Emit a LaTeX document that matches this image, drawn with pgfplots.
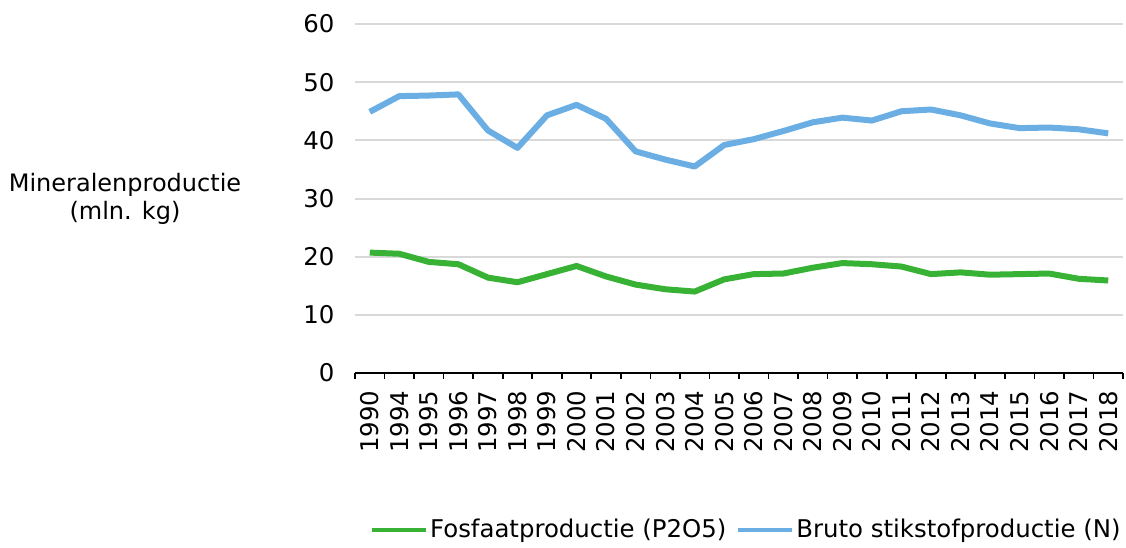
\documentclass[border=0pt]{standalone}
\usepackage{pgfplots}
\pgfplotsset{compat=1.18}
\usepackage{fontspec}
\setmainfont{DejaVu Sans}
\definecolor{cgreen}{RGB}{56,178,52}
\definecolor{cblue}{RGB}{106,174,228}
\definecolor{cgrid}{RGB}{217,217,217}
\begin{document}
\fontsize{12.2pt}{14pt}\selectfont
\begin{tikzpicture}
\begin{axis}[
  name=ax,
  scale only axis,
  width=384pt, height=174.5pt,
  xmin=-0.5, xmax=25.5,
  ymin=0, ymax=60,
  ytick={0,10,...,60},
  ymajorgrids,
  grid style={cgrid, line width=1pt},
  axis y line*=left,
  y axis line style={draw=none},
  ytick style={draw=none},
  axis x line*=bottom,
  x axis line style={black, line width=0.85pt, -},
  xtick={0,...,25},
  xticklabels={1990,1994,1995,1996,1997,1998,1999,2000,2001,2002,2003,2004,2005,2006,2007,2008,2009,2010,2011,2012,2013,2014,2015,2016,2017,2018},
  minor xtick={-0.5,0.5,...,25.5},
  major tick length=0pt,
  minor tick length=3pt,
  tick align=outside,
  minor x tick style={black, line width=0.85pt},
  xticklabel style={rotate=90, anchor=east, xshift=-4.5pt},
  yticklabel style={xshift=-6pt},
  ticklabel style={font=\fontsize{12.2pt}{14pt}\selectfont},
  /pgf/number format/assume math mode=true,
  ylabel={Mineralenproductie\\(mln. kg)},
  ylabel style={rotate=-90, align=center, anchor=center, at={(axis description cs:-0.2995,0.5)}, font=\fontsize{12pt}{14pt}\selectfont},
  legend columns=2,
  legend style={draw=none, at={(1.0,-0.45)}, anchor=east, font=\fontsize{12.2pt}{14pt}\selectfont, inner sep=0pt,
    nodes={inner sep=1pt},
    /tikz/every odd column/.append style={column sep=0pt},
    /tikz/every even column/.append style={column sep=4pt}},
  legend image code/.code={\draw[#1, line width=2pt] (0pt,0pt) -- (27pt,0pt);},
  clip=false,
]
\addplot[cgreen, line width=3pt, line join=round] coordinates {
(0,20.7)(1,20.5)(2,19.1)(3,18.7)(4,16.4)(5,15.6)(6,17.0)(7,18.4)(8,16.6)(9,15.2)(10,14.4)(11,14.0)(12,16.1)(13,17.0)(14,17.1)(15,18.1)(16,18.9)(17,18.7)(18,18.3)(19,17.0)(20,17.3)(21,16.9)(22,17.0)(23,17.1)(24,16.2)(25,15.9)};
\addlegendentry{Fosfaatproductie (P2O5)}
\addplot[cblue, line width=3pt, line join=round] coordinates {
(0,44.9)(1,47.6)(2,47.7)(3,47.9)(4,41.7)(5,38.7)(6,44.3)(7,46.1)(8,43.7)(9,38.1)(10,36.7)(11,35.5)(12,39.2)(13,40.2)(14,41.6)(15,43.1)(16,43.9)(17,43.4)(18,45.0)(19,45.3)(20,44.3)(21,42.9)(22,42.1)(23,42.2)(24,41.9)(25,41.2)};
\addlegendentry{Bruto stikstofproductie (N)}
\end{axis}
\pgfresetboundingbox
\path (ax.south west) ++(-177.5pt,-87pt) rectangle ++(563pt,273.5pt);
\end{tikzpicture}
\end{document}
